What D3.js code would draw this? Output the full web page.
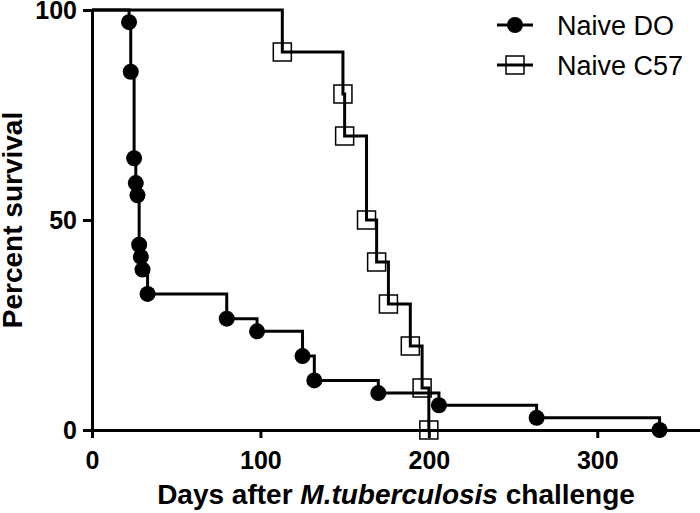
<!DOCTYPE html>
<html>
<head>
<meta charset="utf-8">
<script src="https://cdn.jsdelivr.net/npm/d3@7"></script>
<style>
  body { margin: 0; background: #fff; }
  svg { display: block; font-family: "Liberation Sans", Arial, sans-serif; }
</style>
</head>
<body>
<div id="chart"></div>
<script>
// Kaplan-Meier steps
const doDays = [22, 23, 25, 26, 27, 28, 29, 30, 33, 80, 98, 125, 132, 170, 206, 264, 337];
const doSurvival = [97.1, 85.3, 64.7, 58.8, 55.9, 44.1, 41.2, 38.2, 32.4, 26.5, 23.5, 17.6, 11.8, 8.8, 5.9, 2.9, 0];
const c57Days = [113, 149, 150, 163, 169, 176, 189, 196, 200];
const c57Survival = [90, 80, 70, 50, 40, 30, 20, 10, 0];
const xTicks = [0, 100, 200, 300];
const yTicks = [0, 50, 100];
const seriesNames = ["Naive DO", "Naive C57"];

const w = 700;
const h = 513;

const svg = d3.select("#chart")
  .append("svg")
  .attr("width", w)
  .attr("height", h);

const x = d3.scaleLinear().domain([0, 361]).range([92, 700]);
const y = d3.scaleLinear().domain([0, 100]).range([430, 10]);

const toPoints = (days, surv) => [[0, 100]].concat(days.map((d, i) => [d, surv[i]]));
const doPts = toPoints(doDays, doSurvival);
const c57Pts = toPoints(c57Days, c57Survival);

// axes
const xAxis = svg.append("g")
  .attr("transform", `translate(0,${y(0)})`)
  .call(d3.axisBottom(x).tickValues(xTicks).tickSize(8).tickSizeOuter(0).tickPadding(13));

const yAxis = svg.append("g")
  .attr("transform", `translate(${x(0)},0)`)
  .call(d3.axisLeft(y).tickValues(yTicks).tickSize(9).tickSizeOuter(0).tickPadding(6));

[xAxis, yAxis].forEach(g => {
  g.select(".domain").attr("stroke", "#000").attr("stroke-width", 3);
  g.selectAll(".tick line").attr("stroke", "#000").attr("stroke-width", 3);
  g.selectAll(".tick text")
    .attr("fill", "#000")
    .style("font-family", "Liberation Sans, Arial, sans-serif")
    .style("font-size", "25px")
    .style("font-weight", "bold");
});

// axis titles
const xTitle = svg.append("text")
  .attr("x", 396)
  .attr("y", 504)
  .attr("text-anchor", "middle")
  .style("font-size", "28px")
  .style("font-weight", "bold");
xTitle.append("tspan").text("Days after ");
xTitle.append("tspan").style("font-style", "italic").text("M.tuberculosis");
xTitle.append("tspan").text(" challenge");

svg.append("text")
  .attr("transform", "translate(22,220) rotate(-90)")
  .attr("text-anchor", "middle")
  .style("font-size", "28px")
  .style("font-weight", "bold")
  .text("Percent survival");

// survival curves
const line = d3.line()
  .x(d => x(d[0]))
  .y(d => y(d[1]))
  .curve(d3.curveStepAfter);

svg.append("path")
  .datum(c57Pts)
  .attr("d", line)
  .attr("fill", "none")
  .attr("stroke", "#000")
  .attr("stroke-width", 3);

svg.append("path")
  .datum(doPts)
  .attr("d", line)
  .attr("fill", "none")
  .attr("stroke", "#000")
  .attr("stroke-width", 3);

// markers
const sq = 18;
svg.append("g")
  .selectAll("rect")
  .data(c57Pts.slice(1))
  .join("rect")
  .attr("x", d => x(d[0]) - sq / 2)
  .attr("y", d => y(d[1]) - sq / 2)
  .attr("width", sq)
  .attr("height", sq)
  .attr("fill", "none")
  .attr("stroke", "#000")
  .attr("stroke-width", 1.5);

svg.append("g")
  .selectAll("circle")
  .data(doPts.slice(1))
  .join("circle")
  .attr("cx", d => x(d[0]))
  .attr("cy", d => y(d[1]))
  .attr("r", 8)
  .attr("fill", "#000");

// legend
const legend = svg.append("g");
seriesNames.forEach((name, i) => {
  const ly = 25 + i * 40;
  legend.append("line")
    .attr("x1", 497).attr("x2", 533)
    .attr("y1", ly).attr("y2", ly)
    .attr("stroke", "#000").attr("stroke-width", 3);
  if (i === 0) {
    legend.append("circle").attr("cx", 515).attr("cy", ly).attr("r", 8).attr("fill", "#000");
  } else {
    legend.append("rect")
      .attr("x", 515 - sq / 2).attr("y", ly - sq / 2)
      .attr("width", sq).attr("height", sq)
      .attr("fill", "none").attr("stroke", "#000").attr("stroke-width", 1.5);
  }
  legend.append("text")
    .attr("x", 557)
    .attr("y", ly + 10)
    .style("font-size", "27px")
    .text(name);
});
</script>
</body>
</html>
